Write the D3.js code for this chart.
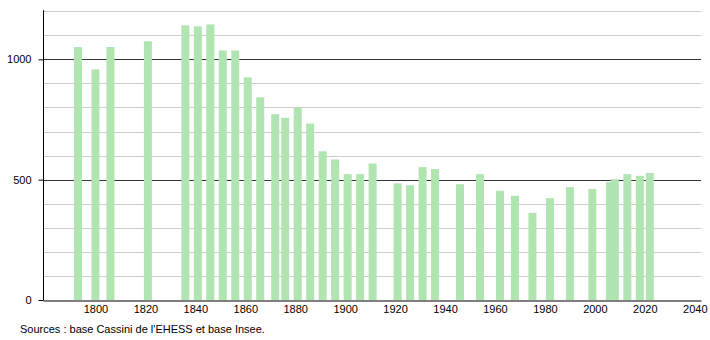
<!DOCTYPE html>
<html>
<head>
<meta charset="utf-8">
<script src="https://cdn.jsdelivr.net/npm/d3@7"></script>
<style>
  body { margin: 0; background: #fff; }
  text { font-family: "Liberation Sans", Arial, sans-serif; }
</style>
</head>
<body>
<div id="chart"></div>
<script>
var years = [1793, 1800, 1806, 1821, 1836, 1841, 1846, 1851, 1856, 1861, 1866, 1872, 1876, 1881,
             1886, 1891, 1896, 1901, 1906, 1911, 1921, 1926, 1931, 1936, 1946, 1954, 1962, 1968,
             1975, 1982, 1990, 1999, 2006, 2008, 2013, 2018, 2022];
var population = [1051, 958, 1051, 1075, 1141, 1137, 1145, 1037, 1037, 925, 842, 772, 757, 800,
                  733, 618, 584, 523, 523, 567, 485, 477, 552, 544, 481, 523, 454, 433,
                  362, 423, 469, 461, 490, 502, 523, 516, 528];
var xTicks = [1800, 1820, 1840, 1860, 1880, 1900, 1920, 1940, 1960, 1980, 2000, 2020, 2040];
var yTicks = [0, 500, 1000];
var gridValues = d3.range(100, 1201, 100);
var sourceText = "Sources : base Cassini de l'EHESS et base Insee.";

var width = 710,
    height = 340,
    plotLeft = 43,
    plotRight = 701,
    plotTop = 11.2,
    plotBottom = 300,
    barWidth = 8;

var data = years.map(function(yr, i) { return { year: yr, value: population[i] }; });

var x = d3.scaleLinear().domain([1779, 2042.5]).range([plotLeft, plotRight]);
var y = d3.scaleLinear().domain([0, 1200]).range([plotBottom, plotTop]);

var svg = d3.select("#chart")
  .append("svg")
    .attr("width", width)
    .attr("height", height);

// grid lines
svg.append("g")
  .selectAll("line")
  .data(gridValues)
  .enter()
    .append("line")
    .attr("x1", plotLeft)
    .attr("x2", plotRight)
    .attr("y1", function(d) { return Math.round(y(d)) + 0.5; })
    .attr("y2", function(d) { return Math.round(y(d)) + 0.5; })
    .attr("stroke", function(d) { return d % 500 === 0 ? "#333" : "#ccc"; })
    .attr("stroke-width", 1);

// bars
svg.append("g")
  .selectAll("rect")
  .data(data)
  .enter()
    .append("rect")
    .attr("x", function(d) { return x(d.year) - barWidth / 2; })
    .attr("width", barWidth)
    .attr("y", function(d) { return y(d.value); })
    .attr("height", function(d) { return plotBottom - y(d.value); })
    .attr("fill", "#b0e4b0");

// y axis
var yAxis = d3.axisLeft(y)
  .tickValues(yTicks)
  .tickFormat(d3.format("d"))
  .tickSize(5)
  .tickSizeOuter(0)
  .tickPadding(7);
var gy = svg.append("g")
  .attr("transform", "translate(" + (plotLeft + 0.5) + ",0)")
  .call(yAxis);
gy.select(".domain").attr("d", "M0," + (plotTop - 1) + "V" + plotBottom).attr("stroke", "#000");
gy.selectAll(".tick line").attr("stroke", "#000");
gy.selectAll(".tick text")
  .attr("font-size", "11px")
  .attr("fill", "#000")
  .style("font-family", "'Liberation Sans', Arial, sans-serif");

// x axis
var xAxis = d3.axisBottom(x)
  .tickValues(xTicks)
  .tickFormat(d3.format("d"))
  .tickSize(0)
  .tickPadding(5);
var gx = svg.append("g")
  .attr("transform", "translate(0," + (plotBottom + 0.5) + ")")
  .call(xAxis);
gx.select(".domain").attr("stroke", "#000");
gx.selectAll(".tick text")
  .attr("font-size", "11px")
  .attr("fill", "#000")
  .style("font-family", "'Liberation Sans', Arial, sans-serif");

// source note
svg.append("text")
  .attr("x", 20)
  .attr("y", 333)
  .attr("font-size", "11px")
  .attr("fill", "#000")
  .text(sourceText);
</script>
</body>
</html>
